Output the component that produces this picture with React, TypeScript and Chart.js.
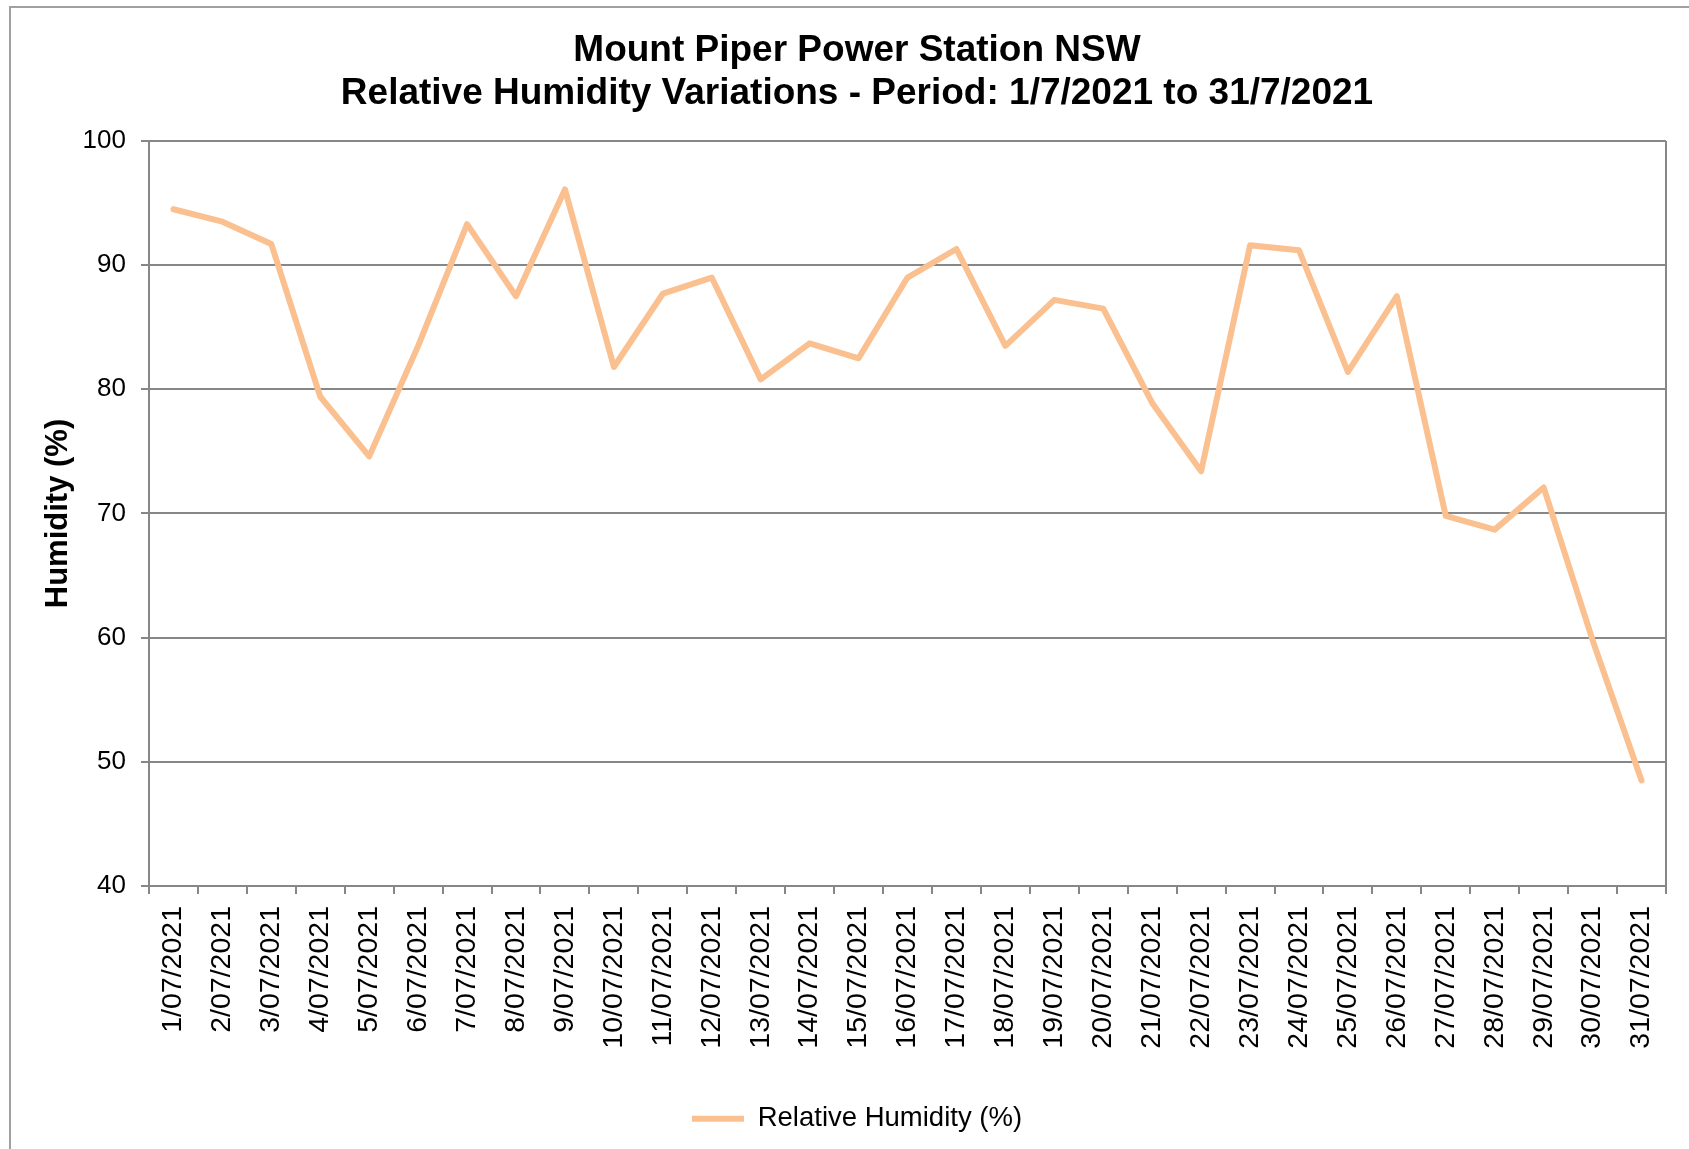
import { useEffect, useRef } from "react";
import { Chart, registerables } from "chart.js";

Chart.register(...registerables);

const categories = [
  "1/07/2021", "2/07/2021", "3/07/2021", "4/07/2021", "5/07/2021", "6/07/2021",
  "7/07/2021", "8/07/2021", "9/07/2021", "10/07/2021", "11/07/2021", "12/07/2021",
  "13/07/2021", "14/07/2021", "15/07/2021", "16/07/2021", "17/07/2021", "18/07/2021",
  "19/07/2021", "20/07/2021", "21/07/2021", "22/07/2021", "23/07/2021", "24/07/2021",
  "25/07/2021", "26/07/2021", "27/07/2021", "28/07/2021", "29/07/2021", "30/07/2021",
  "31/07/2021",
];

const humidity = [
  94.5, 93.5, 91.7, 79.4, 74.6, 83.5, 93.3, 87.5, 96.1, 81.8, 87.7, 89.0,
  80.8, 83.7, 82.5, 89.0, 91.3, 83.5, 87.2, 86.5, 78.9, 73.4, 91.6, 91.2,
  81.4, 87.5, 69.8, 68.7, 72.1, 59.8, 48.5,
];

const titleLines = [
  "Mount Piper Power Station NSW",
  "Relative Humidity Variations - Period: 1/7/2021 to 31/7/2021",
];
const seriesLabel = "Relative Humidity (%)";
const yAxisTitle = "Humidity (%)";
const yMin = 40;
const yMax = 100;
const yStep = 10;

const FONT = "'Liberation Sans', Arial, Helvetica, sans-serif";
const GRID = "#878787";
const LINE = "#FAC090";

const framePlugin = {
  id: "frame",
  beforeDraw(chart: any) {
    const { ctx, width, height } = chart;
    ctx.save();
    ctx.strokeStyle = "#a0a0a0";
    ctx.lineWidth = 2;
    ctx.beginPath();
    ctx.moveTo(10, height + 5);
    ctx.lineTo(10, 7);
    ctx.lineTo(width + 5, 7);
    ctx.stroke();
    ctx.restore();
  },
  beforeDatasetsDraw(chart: any) {
    const { ctx, chartArea } = chart;
    ctx.save();
    ctx.strokeStyle = GRID;
    ctx.lineWidth = 2;
    ctx.beginPath();
    ctx.moveTo(chartArea.right, chartArea.top);
    ctx.lineTo(chartArea.right, chartArea.bottom + 8);
    ctx.stroke();
    ctx.restore();
  },
};

export default function App() {
  const ref = useRef<HTMLCanvasElement | null>(null);

  useEffect(() => {
    if (!ref.current) return;
    const chart = new Chart(ref.current, {
      type: "line",
      data: {
        labels: categories,
        datasets: [
          {
            label: seriesLabel,
            data: humidity,
            borderColor: LINE,
            backgroundColor: LINE,
            borderWidth: 6,
            pointRadius: 0,
            pointHoverRadius: 0,
            tension: 0,
            borderCapStyle: "round",
            borderJoinStyle: "round",
            pointStyle: "line",
          },
        ],
      },
      options: {
        responsive: false,
        animation: false,
        layout: { padding: { left: 48, right: 23, top: 0, bottom: 6.5 } },
        plugins: {
          title: {
            display: true,
            text: titleLines,
            color: "#000",
            font: { family: FONT, size: 37, weight: "bold", lineHeight: 1.17 },
            padding: { top: 29, bottom: 25.4 },
          },
          legend: {
            position: "bottom",
            labels: {
              usePointStyle: true,
              pointStyleWidth: 52,
              color: "#000",
              font: { family: FONT, size: 27.5 },
              padding: 10,
            },
          },
          tooltip: { enabled: false },
        },
        scales: {
          x: {
            offset: true,
            grid: {
              offset: true,
              drawOnChartArea: false,
              drawTicks: true,
              tickLength: 8,
              color: GRID,
              lineWidth: 2,
            },
            border: { display: true, color: GRID, width: 2 },
            ticks: {
              autoSkip: false,
              maxRotation: 90,
              minRotation: 90,
              padding: 12,
              color: "#000",
              font: { family: FONT, size: 28.5 },
            },
            afterFit(scale: any) {
              scale.height = 209;
            },
          },
          y: {
            min: yMin,
            max: yMax,
            ticks: {
              stepSize: yStep,
              padding: 15,
              color: "#000",
              font: { family: FONT, size: 26 },
            },
            grid: {
              color: GRID,
              lineWidth: 2,
              tickLength: 8,
              drawTicks: true,
            },
            border: { display: true, color: GRID, width: 2 },
            title: {
              display: true,
              text: yAxisTitle,
              color: "#000",
              font: { family: FONT, size: 31, weight: "bold" },
              padding: { top: -8, bottom: 0 },
            },
            afterFit(scale: any) {
              scale.width = 101;
            },
          },
        },
      },
      plugins: [framePlugin],
    });
    return () => chart.destroy();
  }, []);

  return (
    <div style={{ position: "absolute", left: 0, top: 0, width: 1689, height: 1149, background: "#fff" }}>
      <canvas ref={ref} width={1689} height={1149} style={{ display: "block" }} />
    </div>
  );
}
